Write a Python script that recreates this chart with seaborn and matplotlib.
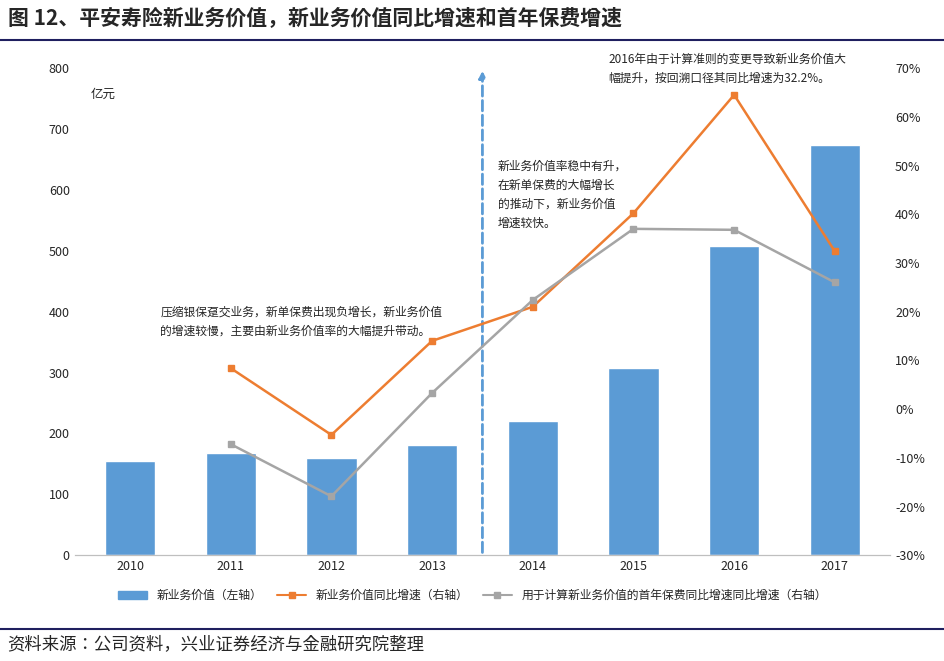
import numpy as np
import pandas as pd
import matplotlib.pyplot as plt
import matplotlib.font_manager as fm
import seaborn as sns
from matplotlib.lines import Line2D
from matplotlib.patches import Patch

years = ['2010', '2011', '2012', '2013', '2014', '2015', '2016', '2017']
nbv = [155, 168, 159, 181, 220, 308, 508, 673]
nbv_growth = [np.nan, 8.4, -5.3, 14.0, 21.0, 40.2, 64.5, 32.4]
fyp_growth = [np.nan, -7.2, -17.9, 3.3, 22.4, 37.0, 36.8, 26.0]

df = pd.DataFrame({'year': years, 'nbv': nbv, 'g1': nbv_growth, 'g2': fyp_growth})

sns.set_style('white')
# find an installed CJK family name
cjk = [f.name for f in fm.fontManager.ttflist if 'CJK' in f.name]
for f in fm.findSystemFonts():
    if 'CJK' in f or 'cjk' in f.lower():
        try:
            fm.fontManager.addfont(f)
            cjk.append(fm.FontProperties(fname=f).get_name())
        except Exception:
            pass
pref = [n for n in cjk if 'SC' in n] + cjk
plt.rcParams['font.family'] = 'sans-serif'
plt.rcParams['font.sans-serif'] = pref[:1] + ['Noto Sans CJK SC', 'DejaVu Sans']
plt.rcParams['axes.unicode_minus'] = False

fig = plt.figure(figsize=(9.45, 6.61), dpi=100)
ax = fig.add_axes([0.079, 0.160, 0.863, 0.737])
sns.barplot(data=df, x='year', y='nbv', color='#5B9BD5', width=0.5, saturation=1, ax=ax)
ax.set_ylim(0, 800)
ax.set_yticks(range(0, 801, 100))
ax.set_xlabel('')
ax.set_ylabel('')
ax.tick_params(labelsize=9, length=0)
ax.text(0.02, 0.96, '亿元', transform=ax.transAxes, fontsize=9, va='top')

ax2 = ax.twinx()
xs = np.arange(len(years))
ax2.plot(xs, df['g1'], color='#ED7D31', marker='s', ms=5, lw=1.8)
ax2.plot(xs, df['g2'], color='#A5A5A5', marker='s', ms=5, lw=1.8)
ax2.set_ylim(-30, 70)
ax2.set_yticks(range(-30, 71, 10))
ax2.set_yticklabels([f'{v}%' for v in range(-30, 71, 10)])
ax2.tick_params(labelsize=9, length=0)
for a in (ax, ax2):
    for s in a.spines.values():
        s.set_visible(False)
    a.spines['bottom'].set_visible(True)
    a.spines['bottom'].set_color('#BFBFBF')
ax.set_xlim(-0.55, 7.55)

ax.annotate('', xy=(3.5, 800), xytext=(3.5, 0),
            arrowprops=dict(arrowstyle='-|>', color='#5B9BD5', lw=2, ls='--'))

ax.text(0.3, 410, '压缩银保趸交业务，新单保费出现负增长，新业务价值\n的增速较慢，主要由新业务价值率的大幅提升带动。',
        fontsize=8.5, va='top', linespacing=1.6)
ax.text(3.65, 650, '新业务价值率稳中有升，\n在新单保费的大幅增长\n的推动下，新业务价值\n增速较快。',
        fontsize=8.5, va='top', linespacing=1.6)
ax.text(4.75, 825, '2016年由于计算准则的变更导致新业务价值大\n幅提升，按回溯口径其同比增速为32.2%。',
        fontsize=8.5, va='top', linespacing=1.6)

handles = [Patch(color='#5B9BD5'),
           Line2D([], [], color='#ED7D31', marker='s', ms=5),
           Line2D([], [], color='#A5A5A5', marker='s', ms=5)]
labels = ['新业务价值（左轴）', '新业务价值同比增速（右轴）', '用于计算新业务价值的首年保费同比增速同比增速（右轴）']
fig.legend(handles, labels, loc='center', bbox_to_anchor=(0.5, 0.099), ncol=3,
           frameon=False, fontsize=8.5, handlelength=2.5, columnspacing=1.2)

fig.text(0.008, 0.973, '图 12、平安寿险新业务价值，新业务价值同比增速和首年保费增速',
         fontsize=15, fontweight='bold', va='center')
fig.add_artist(Line2D([0, 1], [0.94, 0.94], color='#1F1F5F', lw=1.5))
fig.add_artist(Line2D([0, 1], [0.048, 0.048], color='#1F1F5F', lw=1.5))
fig.text(0.008, 0.025, '资料来源：公司资料，兴业证券经济与金融研究院整理', fontsize=12.5, va='center')

fig.savefig('out.png')
